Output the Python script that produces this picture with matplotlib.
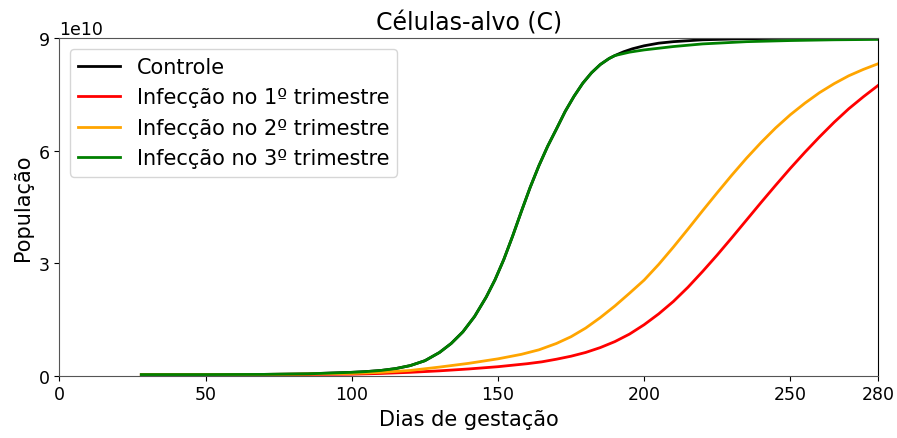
import matplotlib
matplotlib.use("Agg")
import matplotlib.pyplot as plt

# dias de gestação e população (unidades de 1e10)
dias_ctrl = [28, 50, 70, 85, 100, 105, 110, 115, 120, 125, 130, 134, 138, 142, 146,
             149, 152, 155, 158, 161, 164, 167, 170, 173, 176, 179, 182, 185, 188,
             190, 193, 196, 200, 205, 210, 220, 235, 250, 265, 280]
controle = [0.03, 0.03, 0.035, 0.05, 0.09, 0.11, 0.14, 0.19, 0.27, 0.40, 0.62, 0.86,
            1.17, 1.58, 2.10, 2.56, 3.10, 3.72, 4.38, 5.02, 5.60, 6.12, 6.58, 7.05,
            7.45, 7.80, 8.08, 8.30, 8.46, 8.54, 8.64, 8.72, 8.80, 8.87, 8.91, 8.96,
            8.99, 9.00, 9.00, 9.00]

dias_tri3 = [28, 50, 70, 85, 100, 105, 110, 115, 120, 125, 130, 134, 138, 142, 146,
             149, 152, 155, 158, 161, 164, 167, 170, 173, 176, 179, 182, 185, 188,
             190, 195, 200, 210, 220, 235, 250, 265, 280]
tri3 = [0.03, 0.03, 0.035, 0.05, 0.09, 0.11, 0.14, 0.19, 0.27, 0.40, 0.62, 0.86,
        1.17, 1.58, 2.10, 2.56, 3.10, 3.72, 4.38, 5.02, 5.60, 6.12, 6.58, 7.05,
        7.45, 7.80, 8.08, 8.30, 8.46, 8.54, 8.63, 8.69, 8.78, 8.85, 8.91, 8.94,
        8.96, 8.97]

dias_tri2 = [28, 60, 80, 100, 110, 120, 130, 140, 150, 158, 164, 170, 175, 180, 185,
             190, 195, 200, 205, 210, 215, 220, 225, 230, 235, 240, 245, 250, 255,
             260, 265, 270, 275, 280]
tri2 = [0.03, 0.03, 0.04, 0.06, 0.09, 0.14, 0.23, 0.33, 0.45, 0.57, 0.69, 0.86,
        1.04, 1.27, 1.55, 1.86, 2.20, 2.55, 2.97, 3.43, 3.91, 4.40, 4.88, 5.35,
        5.80, 6.22, 6.61, 6.96, 7.27, 7.55, 7.79, 8.00, 8.17, 8.32]

dias_tri1 = [28, 60, 80, 100, 110, 120, 130, 140, 150, 160, 165, 170, 175, 180, 185,
             190, 195, 200, 205, 210, 215, 220, 225, 230, 235, 240, 245, 250, 255,
             260, 265, 270, 275, 280]
tri1 = [0.02, 0.02, 0.03, 0.04, 0.06, 0.09, 0.13, 0.18, 0.24, 0.32, 0.37, 0.44,
        0.52, 0.62, 0.75, 0.91, 1.11, 1.36, 1.65, 1.98, 2.36, 2.78, 3.22, 3.68,
        4.15, 4.62, 5.08, 5.53, 5.96, 6.37, 6.76, 7.12, 7.44, 7.74]

escala = 1e10

fig = plt.figure(figsize=(8.97, 4.39), dpi=100)
ax = fig.add_axes([0.0663, 0.1419, 0.9125, 0.7686])

ax.plot(dias_ctrl, [v * escala for v in controle], color='black', lw=2, label='Controle')
ax.plot(dias_tri1, [v * escala for v in tri1], color='red', lw=2, label='Infecção no 1º trimestre')
ax.plot(dias_tri2, [v * escala for v in tri2], color='orange', lw=2, label='Infecção no 2º trimestre')
ax.plot(dias_tri3, [v * escala for v in tri3], color='green', lw=2, label='Infecção no 3º trimestre')

ax.set_xlim(0, 280)
ax.set_ylim(0, 9e10)
ax.set_xticks([0, 50, 100, 150, 200, 250, 280])
ax.set_yticks([0, 3e10, 6e10, 9e10])
ax.tick_params(labelsize=12.5)
ax.yaxis.get_offset_text().set_fontsize(12.5)

for lado in ['left', 'bottom', 'top']:
    ax.spines[lado].set_color('#555555')

ax.set_title('Células-alvo (C)', fontsize=17)
ax.set_xlabel('Dias de gestação', fontsize=15)
ax.set_ylabel('População', fontsize=15)
ax.legend(loc='upper left', fontsize=15)

fig.savefig('out.png', dpi=100)
